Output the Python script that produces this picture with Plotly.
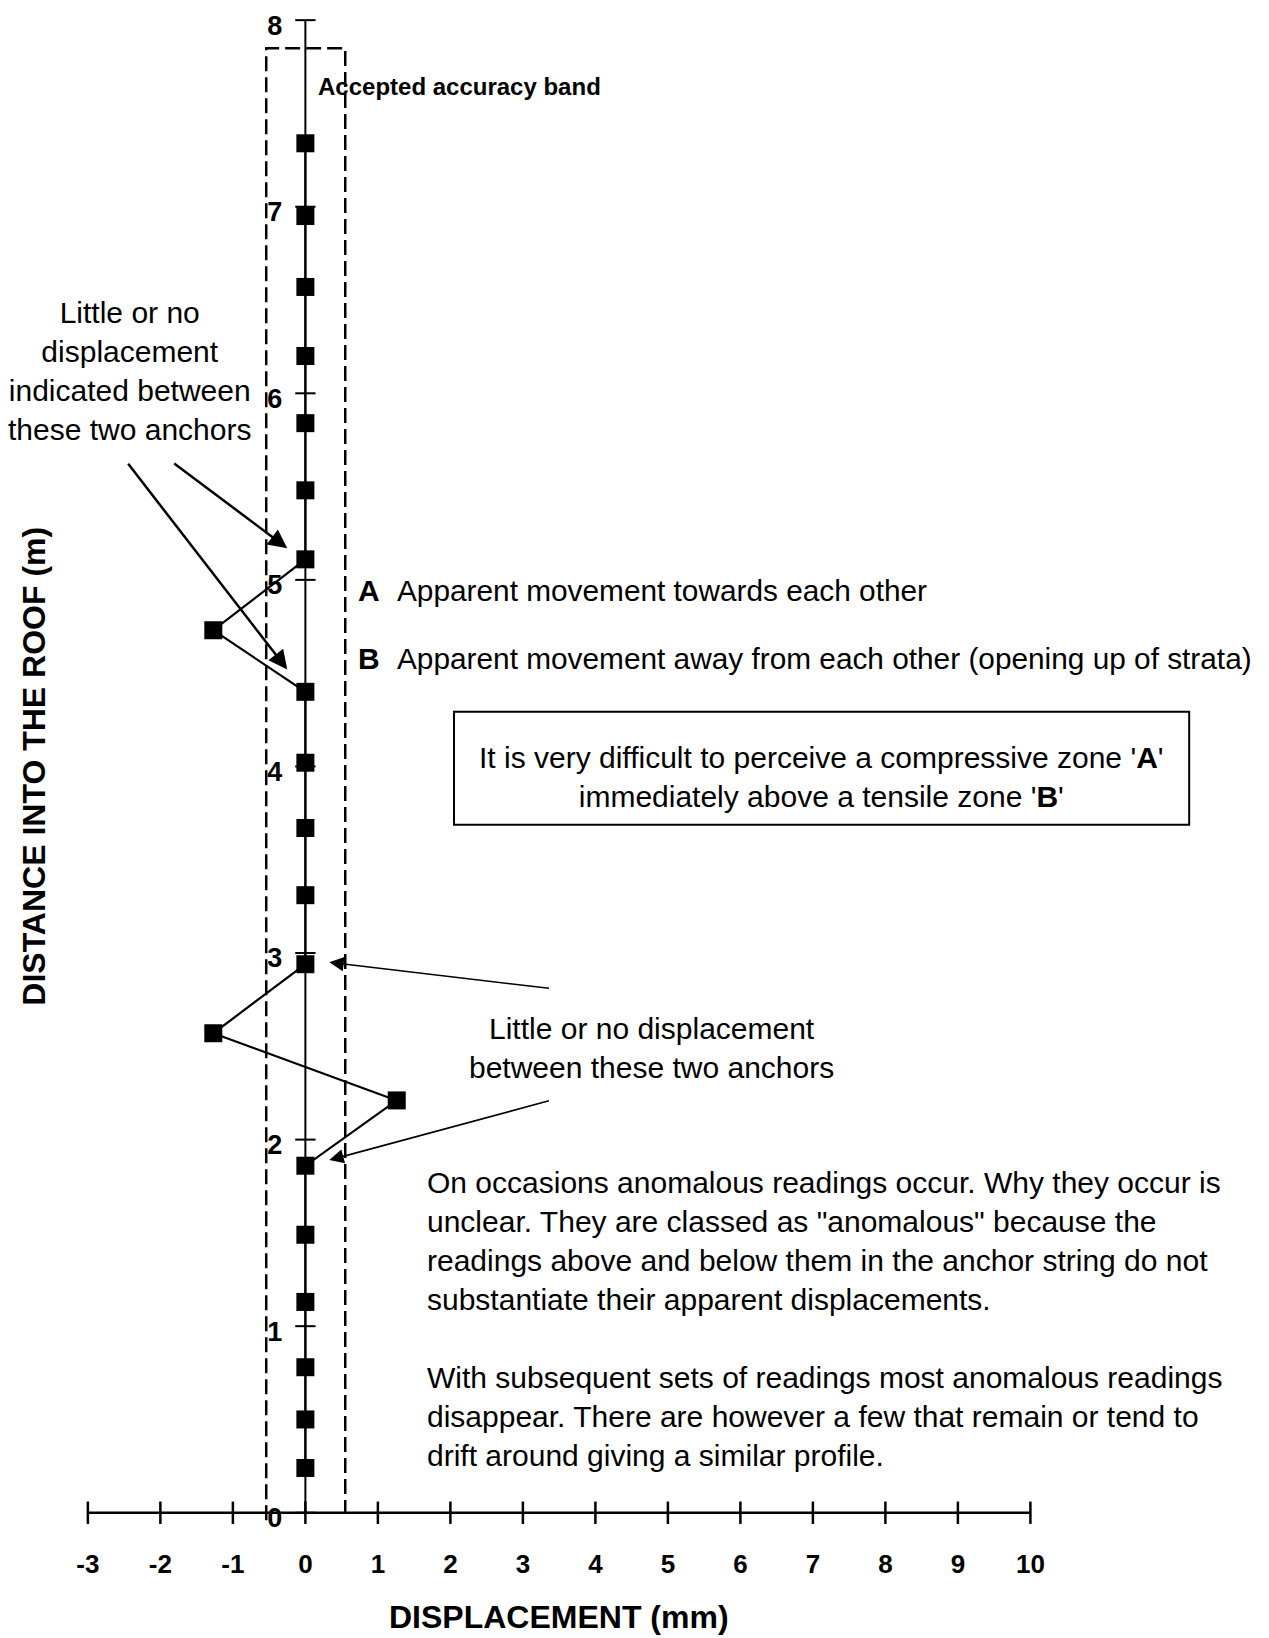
import plotly.graph_objects as go

# anchor readings, top of hole to collar
depth = [7.34, 6.95, 6.57, 6.20, 5.84, 5.48, 5.11, 4.73, 4.40, 4.02, 3.67,
         3.31, 2.94, 2.57, 2.21, 1.86, 1.49, 1.13, 0.78, 0.50, 0.24]
disp = [0, 0, 0, 0, 0, 0, 0, -1.27, 0, 0, 0,
        0, 0, -1.27, 1.26, 0, 0, 0, 0, 0, 0]

x_ticks = list(range(-3, 11))
x_ticktext = [str(v) for v in x_ticks]
y_ticks = list(range(0, 9))

band_lo = -0.54
band_hi = 0.55
band_top = 7.85

FONT = "Liberation Sans, Arial, sans-serif"
xr = [-4.212, 13.291]
yr = [-0.13, 8.108]

fig = go.Figure()

# accuracy band (open at the bottom)
fig.add_trace(go.Scatter(
    x=[band_lo, band_lo, band_hi, band_hi], y=[-0.04, band_top, band_top, 0],
    mode="lines", line=dict(color="black", width=2.5, dash="15px,6px"),
    hoverinfo="skip", showlegend=False))

# vertical axis line through x=0 with crossing ticks
yx, yy = [0, 0, None], [y_ticks[0], y_ticks[-1], None]
for v in y_ticks:
    yx += [-0.14, 0.14, None]
    yy += [v, v, None]
fig.add_trace(go.Scatter(x=yx, y=yy, mode="lines",
                         line=dict(color="black", width=2),
                         hoverinfo="skip", showlegend=False, cliponaxis=False))

# horizontal axis line at y=0 with crossing ticks
xx, xy = [x_ticks[0], x_ticks[-1], None], [0, 0, None]
for v in x_ticks:
    xx += [v, v, None]
    xy += [-0.06, 0.06, None]
fig.add_trace(go.Scatter(x=xx, y=xy, mode="lines",
                         line=dict(color="black", width=2.5),
                         hoverinfo="skip", showlegend=False, cliponaxis=False))

# readings
fig.add_trace(go.Scatter(
    x=disp, y=depth, mode="lines+markers",
    line=dict(color="black", width=2.2),
    marker=dict(symbol="square", size=18, color="black"),
    showlegend=False, cliponaxis=False))

ann = []


def txt(x, y, text, size=30, bold=False, **kw):
    if bold:
        text = "<b>" + text + "</b>"
    d = dict(x=x, y=y, xref="x", yref="y", text=text, showarrow=False,
             font=dict(family=FONT, size=size, color="black"))
    d.update(kw)
    ann.append(d)


def arrow(x, y, ax, ay, width=2.5, head=2, size=1.2):
    ann.append(dict(x=x, y=y, ax=ax, ay=ay, xref="x", yref="y",
                    axref="x", ayref="y", text="", showarrow=True,
                    arrowhead=head, arrowsize=size, arrowwidth=width,
                    arrowcolor="black", standoff=0))


txt(0.15, 7.647, "Accepted accuracy band", size=24, bold=True, xanchor="left")
txt(-2.42, 6.12, "Little or no<br>displacement<br>indicated between<br>these two anchors",
    align="center")
txt(0.70, 4.941, "A", bold=True, xanchor="left")
txt(1.23, 4.941, "Apparent movement towards each other", size=29.8, xanchor="left")
txt(0.70, 4.577, "B", bold=True, xanchor="left")
txt(1.23, 4.577, "Apparent movement away from each other (opening up of strata)",
    size=29.8, xanchor="left")
txt(7.12, 3.944,
    "It is very difficult to perceive a compressive zone '<b>A</b>'<br>"
    "immediately above a tensile zone '<b>B</b>'", align="center")
txt(4.78, 2.489, "Little or no displacement<br>between these two anchors",
    align="center")
txt(1.65, 1.04,
    "On occasions anomalous readings occur. Why they occur is<br>"
    "unclear. They are classed as \"anomalous\" because the<br>"
    "readings above and below them in the anchor string do not<br>"
    "substantiate their apparent displacements.<br>"
    "<br>"
    "With subsequent sets of readings most anomalous readings<br>"
    "disappear. There are however a few that remain or tend to<br>"
    "drift around giving a similar profile.",
    xanchor="left", align="left")
txt(-3.74, 4.0, "DISTANCE INTO THE ROOF (m)", size=32, bold=True, textangle=-90)
ann.append(dict(x=3.5, y=0, xref="x", yref="paper", yanchor="middle",
                yshift=-80, text="<b>DISPLACEMENT (mm)</b>", showarrow=False,
                font=dict(family=FONT, size=32, color="black")))

arrow(-0.25, 4.52, -2.46, 5.63, size=1.5)
arrow(-0.25, 5.17, -1.83, 5.63, size=1.5)
arrow(0.33, 2.95, 3.38, 2.81, width=1.6, size=1.8)
arrow(0.33, 1.89, 3.38, 2.21, width=1.6, size=1.8)

fig.update_layout(annotations=ann)

# text box
fig.add_shape(type="rect", x0=2.05, x1=12.19, y0=3.687, y1=4.293,
              xref="x", yref="y", line=dict(color="black", width=2))

fig.update_layout(
    width=1269, height=1638,
    margin=dict(l=0, r=0, t=0, b=101, autoexpand=False),
    plot_bgcolor="white", paper_bgcolor="white",
    font=dict(family=FONT, color="black"),
    xaxis=dict(range=xr, showgrid=False, zeroline=False, showline=False,
               tickvals=x_ticks, ticktext=x_ticktext, ticks="",
               tickfont=dict(family=FONT, size=26, color="black", weight="bold"),
               ticklabelstandoff=9, automargin=False),
    yaxis=dict(range=yr, showgrid=False, zeroline=False, showline=False,
               anchor="free", position=(0 - xr[0]) / (xr[1] - xr[0]),
               tickvals=y_ticks, ticks="",
               tickfont=dict(family=FONT, size=27, color="black", weight="bold"),
               ticklabelstandoff=23, ticklabelshift=5,
               ticklabeloverflow="allow", automargin=False),
)

fig.write_html("out.html", config={"displayModeBar": False},
               post_script="document.body.style.margin='0';document.body.style.overflow='hidden';")
